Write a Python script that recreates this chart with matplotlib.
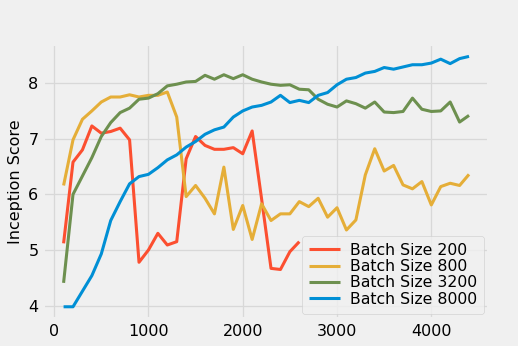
import numpy as np
import matplotlib
matplotlib.use("Agg")
import matplotlib.pyplot as plt

# ================================
# Datos
# ================================

pasos_200 = list(range(100, 2700, 100))
is_200 = [5.12, 6.58, 6.80, 7.23, 7.10, 7.13, 7.19, 6.98, 4.78, 5.00,
          5.30, 5.09, 5.15, 6.64, 7.04, 6.88, 6.81, 6.81, 6.84, 6.73,
          7.14, 5.92, 4.67, 4.65, 4.97, 5.15]

pasos = list(range(100, 4500, 100))

is_800 = [6.16, 6.98, 7.35, 7.50, 7.66, 7.75, 7.75, 7.79, 7.75, 7.78,
          7.78, 7.84, 7.39, 5.96, 6.16, 5.93, 5.65, 6.49, 5.37, 5.80,
          5.19, 5.83, 5.53, 5.65, 5.65, 5.87, 5.78, 5.93, 5.59, 5.76,
          5.36, 5.54, 6.35, 6.82, 6.42, 6.52, 6.17, 6.10, 6.23, 5.81,
          6.14, 6.20, 6.16, 6.36]

is_3200 = [4.41, 6.00, 6.33, 6.66, 7.04, 7.29, 7.47, 7.55, 7.71, 7.73,
           7.81, 7.95, 7.98, 8.02, 8.03, 8.14, 8.07, 8.15, 8.08, 8.15,
           8.07, 8.02, 7.98, 7.96, 7.97, 7.89, 7.88, 7.71, 7.62, 7.57,
           7.68, 7.63, 7.55, 7.66, 7.48, 7.47, 7.49, 7.73, 7.53, 7.49,
           7.50, 7.66, 7.30, 7.42]

is_8000 = [3.98, 3.98, 4.26, 4.54, 4.93, 5.53, 5.87, 6.19, 6.32, 6.36,
           6.48, 6.62, 6.71, 6.85, 6.95, 7.08, 7.16, 7.21, 7.39, 7.50,
           7.57, 7.60, 7.66, 7.78, 7.65, 7.69, 7.65, 7.78, 7.83, 7.97,
           8.07, 8.10, 8.18, 8.21, 8.28, 8.25, 8.29, 8.33, 8.33, 8.36,
           8.43, 8.35, 8.44, 8.48]

etiquetas = ["Batch Size 200", "Batch Size 800", "Batch Size 3200", "Batch Size 8000"]

# ================================
# Gráfico
# ================================

plt.style.use("fivethirtyeight")
plt.rcParams["font.family"] = ["DejaVu Sans"]

fig = plt.figure(figsize=(5.18, 3.46), dpi=100)
ax = fig.add_axes([0.0836, 0.0772, 0.861, 0.796])

ax.plot(pasos_200, is_200, color="#fc4f30", lw=2.2, label=etiquetas[0])
ax.plot(pasos, is_800, color="#e5ae38", lw=2.2, label=etiquetas[1])
ax.plot(pasos, is_3200, color="#6d904f", lw=2.2, label=etiquetas[2])
ax.plot(pasos, is_8000, color="#008fd5", lw=2.2, label=etiquetas[3])

ax.set_xticks([0, 1000, 2000, 3000, 4000])
ax.set_yticks([4, 5, 6, 7, 8])
ax.tick_params(labelsize=11.5, length=0)
ax.grid(color="#d8d8d8", lw=0.9)
ax.set_ylabel("Inception Score", fontsize=11.5)

ax.legend(loc="lower right", fontsize=11.3, labelspacing=0.08,
          handlelength=2, handletextpad=0.6, borderpad=0.45,
          borderaxespad=0.35)

fig.savefig("out.png", dpi=100)
